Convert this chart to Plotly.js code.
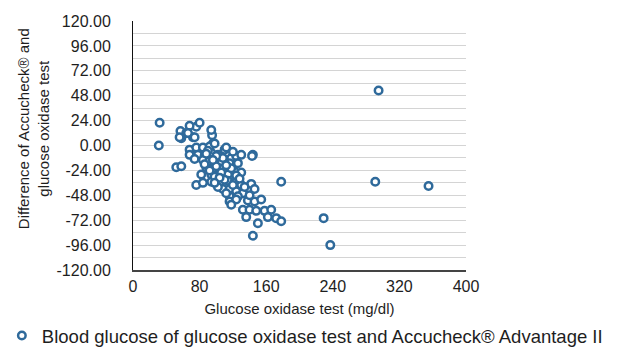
<!DOCTYPE html>
<html>
<head>
<meta charset="utf-8">
<script src="https://cdn.plot.ly/plotly-3.0.1.min.js"></script>
<style>html,body{margin:0;padding:0;background:#fff}#chart{width:621px;height:347px}</style>
</head>
<body>
<div id="chart"></div>
<script>
// Glucose oxidase test (mg/dl)
const glucoseOxidase = [
  32, 57, 64, 72, 58, 76, 68, 66, 56, 74, 80, 95, 94, 96, 31,
  68, 76, 84, 92, 98, 110, 112, 68, 78, 86, 94, 102, 118, 124, 130, 144,
  74, 84, 92, 100, 106, 116, 126, 52, 58, 88, 96, 104, 112, 122, 130,
  82, 94, 104, 114, 124, 76, 84, 94, 104, 114, 122, 130, 142, 146, 178,
  108, 116, 124, 132, 116, 126, 138, 146, 154, 116, 132, 140, 148, 158,
  166, 162, 172, 178, 136, 150, 144, 295, 291, 355, 229, 237,
  100, 108, 90, 98, 110, 118, 86, 102, 120, 128, 112, 134, 140, 100, 92, 106, 120, 143,
  96, 104, 112, 88, 124, 118, 98
];
// Difference of Accucheck® and glucose oxidase test
const difference = [
  22, 14, 12, 8, 7, 18, 19, 12, 8, 8, 22, 10, 15, 2, 0,
  -4, -2, -2, -1, 2, -4, -2, -9, -9, -10, -7, -9, -12, -10, -9, -9,
  -13, -14, -15, -17, -17, -17, -17, -21, -20, -21, -23, -22, -24, -25, -26,
  -28, -28, -28, -28, -29, -38, -36, -35, -36, -34, -36, -38, -37, -42, -35,
  -42, -42, -44, -46, -49, -49, -53, -54, -52, -54, -62, -62, -63, -63,
  -62, -69, -70, -73, -69, -75, -87, 53, -35, -39, -70, -96,
  -20, -12, -5, -30, -33, -22, -18, -40, -38, -32, -46, -40, -48, -10, -24, -26, -6, -10,
  -14, -31, -19, -8, -52, -57, -36
];
const xTicks = [0, 80, 160, 240, 320, 400];
const yTicks = [-120, -96, -72, -48, -24, 0, 24, 48, 72, 96, 120];
const seriesName = 'Blood glucose of glucose oxidase test and Accucheck® Advantage II';

const blue = '#2f6a9b';
const font = 'Liberation Sans, Arial, Helvetica, sans-serif';
const textColor = '#1e1e1e';

const trace = {
  x: glucoseOxidase,
  y: difference,
  type: 'scatter',
  mode: 'markers',
  name: seriesName,
  marker: {symbol: 'circle', size: 7.5, color: '#ffffff', line: {color: blue, width: 2.5}}
};

const layout = {
  width: 621, height: 347,
  margin: {l: 133, r: 155, t: 21, b: 77, pad: 0},
  paper_bgcolor: '#ffffff', plot_bgcolor: '#ffffff',
  font: {family: font, color: textColor, size: 15},
  showlegend: true,
  legend: {
    orientation: 'h', xref: 'container', yref: 'container',
    x: 0.003, xanchor: 'left', y: 0.032, yanchor: 'middle',
    font: {family: font, size: 18.5, color: textColor}, bgcolor: 'rgba(0,0,0,0)'
  },
  xaxis: {
    range: [0, 400], tickvals: xTicks, ticktext: xTicks.map(String),
    showgrid: false, zeroline: false,
    showline: true, linecolor: '#444444', linewidth: 1.5,
    ticks: 'outside', ticklen: 1, tickcolor: 'rgba(0,0,0,0)',
    tickfont: {family: font, size: 16, color: textColor},
    title: {text: 'Glucose oxidase test (mg/dl)', font: {family: font, size: 15, color: textColor}, standoff: 15}
  },
  yaxis: {
    range: [-120, 120], tickvals: yTicks, ticktext: yTicks.map(v => v.toFixed(2)),
    showgrid: true, gridcolor: '#d4d4d4', gridwidth: 1,
    minor: {dtick: 12, tick0: 0, showgrid: true, gridcolor: '#d4d4d4', gridwidth: 1},
    zeroline: false,
    showline: true, linecolor: '#111111', linewidth: 1,
    ticks: 'outside', ticklen: 18, tickcolor: 'rgba(0,0,0,0)',
    tickfont: {family: font, size: 16, color: textColor}
  },
  annotations: [{
    text: 'Difference of Accucheck® and<br>glucose oxidase test',
    xref: 'paper', yref: 'paper', x: -0.3, y: 0.566, xanchor: 'center', yanchor: 'middle',
    textangle: -90, showarrow: false,
    font: {family: font, size: 15, color: textColor}
  }]
};

Plotly.newPlot('chart', [trace], layout, {displayModeBar: false, staticPlot: true});
</script>
</body>
</html>
